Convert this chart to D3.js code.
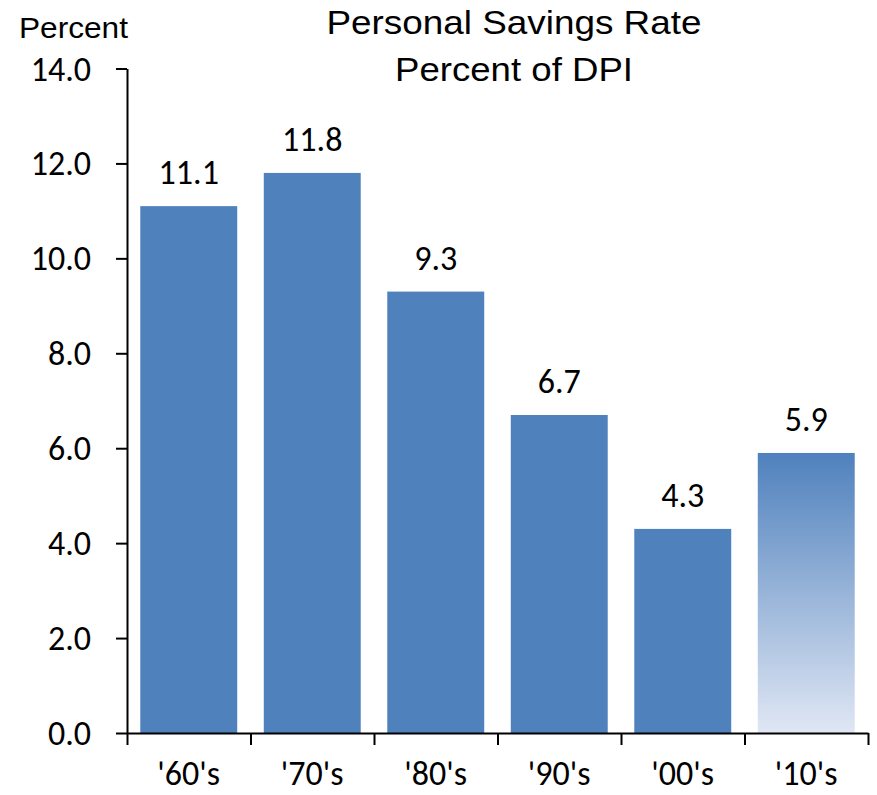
<!DOCTYPE html>
<html>
<head>
<meta charset="utf-8">
<script src="https://cdn.jsdelivr.net/npm/d3@7"></script>
<style>
  body { margin: 0; background: #fff; }
  svg text { fill: #000; }
</style>
</head>
<body>
<div id="chart"></div>
<script>
// Données du graphique
const decades = ["'60's", "'70's", "'80's", "'90's", "'00's", "'10's"];
const savingsRate = [11.1, 11.8, 9.3, 6.7, 4.3, 5.9];
const yTicks = [0, 2, 4, 6, 8, 10, 12, 14];
const titleLines = ["Personal Savings Rate", "Percent of DPI"];

const width = 877;
const height = 795;
const plotLeft = 127, plotRight = 868, plotTop = 68.5, plotBottom = 733;
const numFont = "Carlito, Calibri, Lato, sans-serif";

const svg = d3.select("#chart")
  .append("svg")
  .attr("width", width)
  .attr("height", height);

// Échelles
const x = d3.scaleBand()
  .domain(decades)
  .range([plotLeft, plotRight])
  .paddingInner(0.215)
  .paddingOuter(0.1075);

const xEdges = d3.scaleLinear()
  .domain([0, decades.length])
  .range([plotLeft, plotRight]);

const y = d3.scaleLinear()
  .domain([0, 14])
  .range([plotBottom, plotTop]);

// Dégradé pour la dernière barre (décennie incomplète)
const grad = svg.append("defs").append("linearGradient")
  .attr("id", "fade")
  .attr("x1", 0).attr("y1", 0).attr("x2", 0).attr("y2", 1);
grad.append("stop").attr("offset", "0%").attr("stop-color", "#4F81BD");
grad.append("stop").attr("offset", "100%").attr("stop-color", "#E0E7F4");

// Barres
svg.selectAll("rect.bar")
  .data(savingsRate)
  .enter()
  .append("rect")
  .attr("class", "bar")
  .attr("x", (d, i) => x(decades[i]))
  .attr("y", d => y(d))
  .attr("width", x.bandwidth())
  .attr("height", d => y(0) - y(d))
  .attr("fill", (d, i) => i === decades.length - 1 ? "url(#fade)" : "#4F81BD");

// Étiquettes des valeurs
svg.selectAll("text.value")
  .data(savingsRate)
  .enter()
  .append("text")
  .attr("class", "value")
  .attr("x", (d, i) => x(decades[i]) + x.bandwidth() / 2)
  .attr("y", d => y(d) - 22)
  .attr("text-anchor", "middle")
  .style("font-family", numFont)
  .style("font-size", "34px")
  .text(d => d.toFixed(1));

// Axe Y
const yAxis = svg.append("g")
  .attr("transform", `translate(${plotLeft},0)`)
  .call(d3.axisLeft(y)
    .tickValues(yTicks)
    .tickFormat(d3.format(".1f"))
    .tickSize(11)
    .tickSizeOuter(0)
    .tickPadding(25));
yAxis.selectAll("text")
  .style("font-family", numFont)
  .style("font-size", "34px")
  .attr("dy", "0.34em");

// Axe X : graduations aux limites des catégories
svg.append("g")
  .attr("transform", `translate(0,${plotBottom})`)
  .call(d3.axisBottom(xEdges)
    .tickValues(d3.range(decades.length + 1))
    .tickFormat("")
    .tickSize(12)
    .tickSizeOuter(0));

// Libellés des catégories
const xLabels = svg.append("g")
  .attr("transform", `translate(0,${plotBottom})`)
  .call(d3.axisBottom(x).tickSize(0).tickPadding(0));
xLabels.select(".domain").remove();
xLabels.selectAll("text")
  .attr("dy", null)
  .attr("y", 52)
  .style("font-family", numFont)
  .style("font-size", "34px");

svg.selectAll(".domain, .tick line")
  .attr("stroke", "#000")
  .attr("stroke-width", 2);

// Titre
svg.selectAll("text.title")
  .data(titleLines)
  .enter()
  .append("text")
  .attr("class", "title")
  .attr("x", 514)
  .attr("y", (d, i) => 34 + i * 47)
  .attr("text-anchor", "middle")
  .attr("textLength", (d, i) => i === 0 ? 375 : 238)
  .attr("lengthAdjust", "spacingAndGlyphs")
  .style("font-family", "'Liberation Sans', Arial, sans-serif")
  .style("font-size", "33px")
  .text(d => d);

// Unité de l'axe Y
svg.append("text")
  .attr("x", 19)
  .attr("y", 37.5)
  .attr("textLength", 109)
  .attr("lengthAdjust", "spacingAndGlyphs")
  .style("font-family", "'Liberation Sans', Arial, sans-serif")
  .style("font-size", "29px")
  .text("Percent");
</script>
</body>
</html>
